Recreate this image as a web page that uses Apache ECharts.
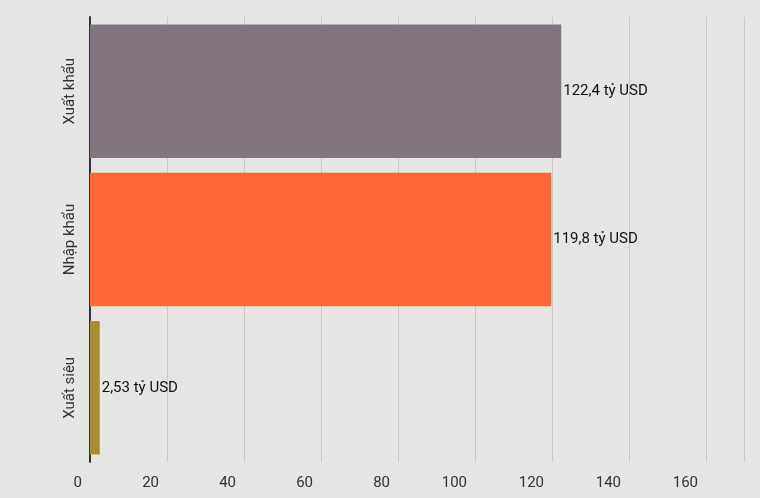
<!DOCTYPE html>
<html><head><meta charset="utf-8">
<script src="https://cdn.jsdelivr.net/npm/echarts@6/dist/echarts.min.js"></script>
<style>html,body{margin:0;background:#e5e5e5}#c{width:760px;height:498px}</style>
</head><body><div id="c"></div>
<script>
// dữ liệu
var categories = ['Xuất siêu', 'Nhập khẩu', 'Xuất khẩu'];
var values = [2.53, 119.8, 122.4];
var labels = ['2,53 tỷ USD', '119,8 tỷ USD', '122,4 tỷ USD'];
var colors = ['#a88c3c', '#ff6836', '#837580'];

var chart = echarts.init(document.getElementById('c'));
chart.setOption({
    backgroundColor: '#e5e5e5',
    textStyle: { fontFamily: 'Roboto' },
    grid: { left: 90, top: 17, width: 654.5, bottom: 36 },
    xAxis: {
        type: 'value', min: 0, max: 170, interval: 20,
        axisLine: { show: false }, axisTick: { show: false },
        splitLine: { lineStyle: { color: '#c8c8c8' } },
        axisLabel: { color: '#333', fontSize: 15, align: 'right', margin: 14, padding: [0, 8, 0, 0], showMaxLabel: false }
    },
    yAxis: {
        type: 'category', data: categories,
        axisLine: { lineStyle: { color: '#333', width: 2 } },
        axisTick: { show: false },
        axisLabel: { rotate: 90, color: '#333', fontSize: 15, margin: 12 }
    },
    series: [{
        type: 'bar', barWidth: '90%',
        data: values.map(function (v, i) {
            return { value: v, itemStyle: { color: colors[i] } };
        }),
        label: {
            show: true, position: 'right', distance: 2, color: '#111', fontSize: 15,
            formatter: function (p) { return labels[p.dataIndex]; }
        }
    }]
});
</script></body></html>
